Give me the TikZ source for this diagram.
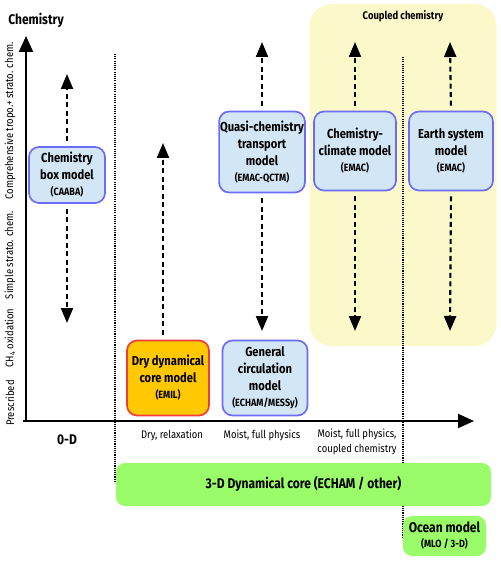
\documentclass[tikz,border=0pt]{standalone}
\usepackage{fontspec}
\setmainfont{Fira Sans}[FakeStretch=0.86]
\usetikzlibrary{arrows.meta,positioning}
\definecolor{boxfill}{RGB}{211,230,245}
\definecolor{boxedge}{RGB}{108,108,245}
\definecolor{dryfill}{RGB}{255,200,0}
\definecolor{dryedge}{RGB}{240,60,60}
\definecolor{corefill}{RGB}{153,252,104}
\definecolor{coupfill}{RGB}{251,249,202}
\newcommand{\boxfont}{\fontsize{13}{17}\selectfont\bfseries}
\newcommand{\tagfont}{\fontsize{10.5}{12}\selectfont\bfseries}
\newcommand{\axfont}{\fontsize{11}{14.5}\selectfont}

\begin{document}
\begin{tikzpicture}[
    x=1pt, y=-1pt,
    >={Triangle[length=15pt,width=12pt]},
    model/.style={draw=boxedge, fill=boxfill, line width=1.7pt, rounded corners=10pt, align=center, font=\boxfont, inner sep=1pt},
    drymodel/.style={model, draw=dryedge, fill=dryfill},
    corebox/.style={fill=corefill, rounded corners=9pt, align=center, font=\fontsize{14}{17}\selectfont\bfseries, inner sep=1pt},
    vrange/.style={->, line width=2.1pt, dash pattern=on 5pt off 3.5pt, shorten <=5pt},
    divider/.style={line width=1.7pt, dash pattern=on 1.1pt off 1.1pt},
    axis/.style={->, line width=2pt, >={Triangle[length=16pt,width=14pt]}},
    ylab/.style={rotate=90, font=\axfont},
    xlab/.style={font=\axfont, align=center},
]
\useasboundingbox (0,0) rectangle (500,561);

% coupled chemistry panel
\node[fill=coupfill, rounded corners=22pt, minimum width=187, minimum height=342, inner sep=0pt] (coupled) at (403,175) {};
\node[font=\axfont\bfseries, below=3pt of coupled.north] (coupledlab) {Coupled chemistry};

% dividers
\draw[divider] (115,54) coordinate (divA) -- (115,483) coordinate (divAend);
\draw[divider] (403,57) coordinate (divB) -- (403,537) coordinate (divBend);

% axes
\coordinate (origin) at (26,421);
\coordinate (ytip) at (26,36);
\coordinate (xtip) at (474,421);
\draw[axis] (23,421) -- (xtip);
\draw[axis] (origin) -- (ytip);
\node[font=\fontsize{14}{17}\selectfont\bfseries] (ychem) at (36,20) {Chemistry};

\node[ylab] (lvl1) at (10,121) {Comprehensive tropo.+ strato. chem.};
\node[ylab] (lvl2) at (10,255) {Simple strato. chem.};
\node[ylab] (lvl3) at (10,338) {CH\textsubscript{4} oxidation};
\node[ylab] (lvl4) at (10,403) {Prescribed};

\node[font=\fontsize{14}{17}\selectfont\bfseries] (zeroD) at (67,440) {0-D};
\node[xlab] (dry) at (172,435) {Dry, relaxation};
\node[xlab] (moist) at (262,435) {Moist, full physics};
\node[xlab] (moistc) at (357,442) {Moist, full physics,\\coupled chemistry};

% models
\node[model, minimum width=76, minimum height=56] (caaba) at (67,175) {Chemistry\\box model\\[-1pt]{\tagfont (CAABA)}};
\node[model, minimum width=84, minimum height=81] (qctm) at (262,152) {Quasi-chemistry\\transport\\model\\[-1pt]{\tagfont (EMAC-QCTM)}};
\node[model, minimum width=82, minimum height=79] (ccm) at (355,151) {Chemistry-\\climate model\\[-1pt]{\tagfont (EMAC)}};
\node[model, minimum width=84, minimum height=79] (esm) at (451,151) {Earth system\\model\\[-1pt]{\tagfont (EMAC)}};
\node[drymodel, minimum width=82, minimum height=75] (emil) at (168,378) {Dry dynamical\\core model\\[-1pt]{\tagfont (EMIL)}};
\node[model, minimum width=85, minimum height=75] (gcm) at (265,378) {General\\circulation\\model\\[-1pt]{\tagfont (ECHAM/MESSy)}};

\node[corebox, minimum width=375, minimum height=43] (core) at (303.5,484.5) {3-D Dynamical core (ECHAM / other)};
\node[corebox, minimum width=83, minimum height=40] (ocean) at (444.5,536) {Ocean model\\[-2pt]{\tagfont (MLO / 3-D)}};

% ranges
\coordinate (caabaup) at (67,74);
\coordinate (caabadn) at (67,323);
\coordinate (emilup) at (163,143);
\foreach \m/\x in {qctm/262, ccm/355, esm/450} {
    \coordinate (\m up) at (\x,42);
    \coordinate (\m dn) at (\x,331);
}
\foreach \m in {caaba, qctm, ccm, esm} {
    \draw[vrange] (\m.north) -- (\m up);
    \draw[vrange] (\m.south) -- (\m dn);
}
\draw[vrange] (emil.north -| emilup) -- (emilup);
\end{tikzpicture}
\end{document}
